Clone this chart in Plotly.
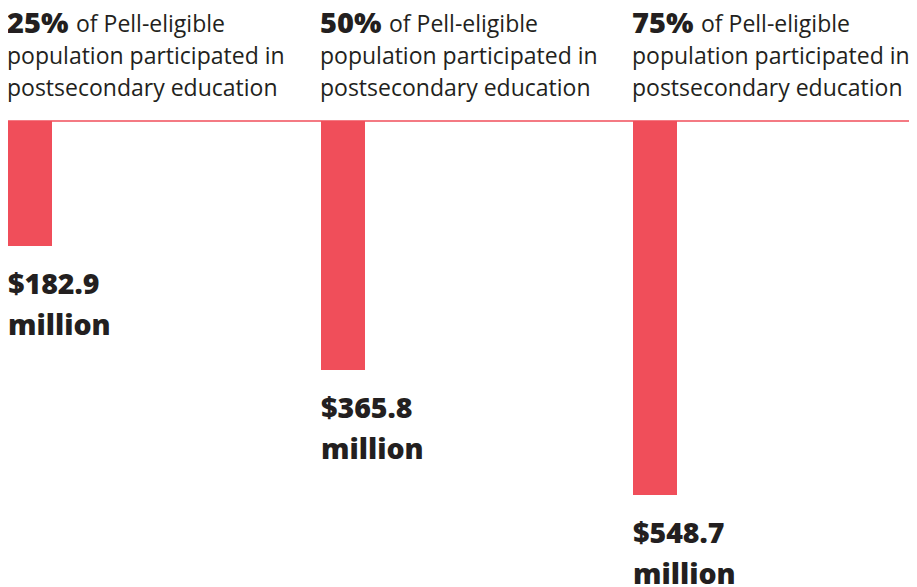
import plotly.graph_objects as go

# Data
shares = ["25%", "50%", "75%"]
costs = [182.9, 365.8, 548.7]
cost_labels = ["$182.9", "$365.8", "$548.7"]
title_lines = ["of Pell-eligible", "population participated in", "postsecondary education"]

BAR = "#F04E5A"
TXT = "#231F20"
FONT = "Open Sans, Lato, sans-serif"

xs = list(range(len(costs)))
bar_w = 0.1408

fig = go.Figure()
fig.add_trace(go.Bar(
    x=xs, y=[-c for c in costs], width=bar_w,
    marker=dict(color=BAR, line=dict(width=0)),
    hoverinfo="skip", showlegend=False,
))

W, H = 917, 587
fig.update_layout(
    width=W, height=H,
    margin=dict(l=0, r=0, t=0, b=0),
    paper_bgcolor="white", plot_bgcolor="white",
    xaxis=dict(range=[-0.0704, 2.864], visible=False, fixedrange=True),
    yaxis=dict(range=[-695.4, 165.8], visible=False, fixedrange=True),
    bargap=0,
)

fig.add_shape(type="line", xref="paper", yref="y",
              x0=0, x1=1, y0=0, y1=0,
              line=dict(color=BAR, width=1.4), layer="below")

line_y = [15, 47, 79]
for i, (s, c, lab) in enumerate(zip(shares, costs, cost_labels)):
    xl = i - bar_w / 2
    # bold share
    fig.add_annotation(
        x=xl, xref="x", y=1 - line_y[0] / H, yref="paper",
        text=s, showarrow=False, xanchor="left", yanchor="middle",
        font=dict(family=FONT, size=29, color=TXT, weight=800),
        xshift=-2, yshift=2, borderpad=0,
    )
    for j, ln in enumerate(title_lines):
        fig.add_annotation(
            x=xl, xref="x", y=1 - line_y[j] / H, yref="paper",
            text=ln, showarrow=False, xanchor="left", yanchor="middle",
            font=dict(family=FONT, size=23, color=TXT),
            xshift=(67 if j == 0 else -2), borderpad=0,
        )
    for j, ln in enumerate([lab, "million"]):
        fig.add_annotation(
            x=xl, xref="x", y=-c, yref="y",
            text=ln, showarrow=False, xanchor="left", yanchor="middle",
            font=dict(family=FONT, size=28.5, color=TXT, weight=800),
            yshift=-37 - 41 * j, xshift=-2,
        )

fig.write_html("out.html")
